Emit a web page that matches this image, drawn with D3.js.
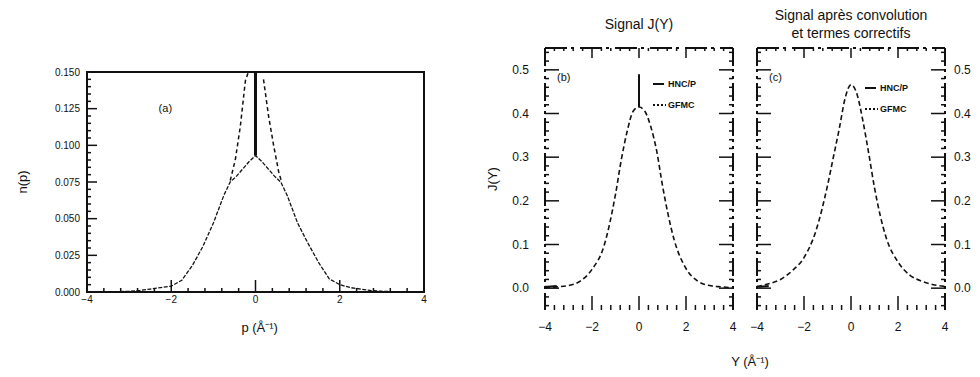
<!DOCTYPE html>
<html>
<head>
<meta charset="utf-8">
<script src="https://cdn.jsdelivr.net/npm/d3@7"></script>
<style>
body { margin: 0; background: #fff; }
text { font-family: "Liberation Sans", Arial, sans-serif; fill: #111; }
</style>
</head>
<body>
<svg id="chart" width="980" height="377"></svg>
<script>
// ---- panel (a) : n(p) ----
var pGrid  = [-4, -3.5, -3, -2.75, -2.5, -2.25, -2, -1.75, -1.5, -1.25, -1, -0.75, -0.6, -0.45, -0.3, -0.15, 0,
              0.15, 0.3, 0.45, 0.6, 0.75, 1, 1.25, 1.5, 1.75, 2, 2.25, 2.5, 2.75, 3, 3.5, 4];
var nSolid = [0, 0, 0.0005, 0.001, 0.002, 0.003, 0.004, 0.008, 0.018, 0.031, 0.047, 0.066, 0.075, 0.079, 0.084, 0.089, 0.093,
              0.089, 0.084, 0.079, 0.075, 0.066, 0.047, 0.033, 0.020, 0.009, 0.005, 0.003, 0.002, 0.001, 0.0005, 0, 0];
var pCenter = [-0.6, -0.48, -0.36, -0.24, -0.17, 0.17, 0.19, 0.31, 0.43, 0.55, 0.62];
var nDotted = [0.076, 0.090, 0.113, 0.144, 0.150, null, 0.145, 0.120, 0.100, 0.082, 0.075];
var condensate = [0.093, 0.150];   // vertical spike at p = 0
var nTicks = [0, 0.025, 0.05, 0.075, 0.1, 0.125, 0.15];
var pTicks = [-4, -2, 0, 2, 4];

// ---- panels (b) and (c) : J(Y) ----
var yGrid  = [-4, -3.5, -3, -2.5, -2, -1.5, -1, -0.75, -0.5, -0.25, 0, 0.25, 0.5, 0.75, 1, 1.5, 2, 2.5, 3, 3.5, 4];
var jRaw   = [0.001, 0.003, 0.006, 0.016, 0.043, 0.095, 0.215, 0.295, 0.36, 0.405, 0.415, 0.405, 0.37, 0.315, 0.235, 0.11, 0.045, 0.016, 0.006, 0.003, 0.001];
var jConv  = [0.004, 0.01, 0.02, 0.04, 0.07, 0.13, 0.235, 0.30, 0.365, 0.435, 0.466, 0.445, 0.385, 0.31, 0.23, 0.115, 0.06, 0.03, 0.016, 0.008, 0.004];
var spikeJ = [0.415, 0.49];          // condensate line at Y = 0, panel (b)
var tailY  = [-4, -3.75, -3.5];
var tailJ  = [0.003, 0.004, 0.005];
var jTicks = [0, 0.1, 0.2, 0.3, 0.4, 0.5];
var yTicks = [-4, -2, 0, 2, 4];
var legendNames = ["HNC/P", "GFMC"];

var svg = d3.select("#chart");
var ink = "#111";

function isMajor(v, step) { return Math.abs(Math.round(v / step) * step - v) < 1e-6; }

// ================= panel (a) =================
var xa = d3.scaleLinear().domain([-4, 4]).range([87, 424]);
var ya = d3.scaleLinear().domain([0, 0.150]).range([292, 72]);
var ga = svg.append("g");

ga.append("rect")
    .attr("x", xa(-4)).attr("y", ya(0.150))
    .attr("width", xa(4) - xa(-4)).attr("height", ya(0) - ya(0.150))
    .attr("fill", "none").attr("stroke", ink).attr("stroke-width", 2);

// left ticks (inward)
ga.selectAll(".ytk").data(d3.range(0, 0.1501, 0.005)).enter().append("line")
    .attr("x1", xa(-4))
    .attr("x2", function (d) { return xa(-4) + (isMajor(d, 0.025) ? 10 : 4); })
    .attr("y1", function (d) { return ya(d); }).attr("y2", function (d) { return ya(d); })
    .attr("stroke", ink).attr("stroke-width", 1.5);

ga.selectAll(".ylab").data(nTicks).enter().append("text")
    .attr("x", xa(-4) - 7).attr("y", function (d) { return ya(d); })
    .attr("dy", "0.35em").attr("text-anchor", "end").attr("font-size", 10)
    .text(d3.format(".3f"));

// bottom ticks (inward)
ga.selectAll(".xtk").data(d3.range(-4, 4.001, 0.4)).enter().append("line")
    .attr("x1", function (d) { return xa(d); }).attr("x2", function (d) { return xa(d); })
    .attr("y1", ya(0))
    .attr("y2", function (d) { return ya(0) - (isMajor(d, 2) ? 12 : 4); })
    .attr("stroke", ink).attr("stroke-width", 1.5);

ga.selectAll(".xlab").data(pTicks).enter().append("text")
    .attr("x", function (d) { return xa(d); }).attr("y", ya(0) + 11)
    .attr("text-anchor", "middle").attr("font-size", 10)
    .text(function (d) { return d < 0 ? "\u2212" + (-d) : d; });

var lineA = d3.line()
    .defined(function (d) { return d[1] !== null; })
    .x(function (d) { return xa(d[0]); })
    .y(function (d) { return ya(d[1]); });

ga.append("path")
    .datum(d3.zip(pGrid, nSolid))
    .attr("d", lineA).attr("fill", "none")
    .attr("stroke", ink).attr("stroke-width", 1.3).attr("stroke-dasharray", "4,1.5");

ga.append("path")
    .datum(d3.zip(pCenter, nDotted))
    .attr("d", lineA).attr("fill", "none")
    .attr("stroke", ink).attr("stroke-width", 1.5).attr("stroke-dasharray", "4,3");

ga.append("line")
    .attr("x1", xa(0)).attr("x2", xa(0))
    .attr("y1", ya(condensate[0])).attr("y2", ya(condensate[1]))
    .attr("stroke", ink).attr("stroke-width", 3);

ga.append("text").attr("x", xa(-2.3)).attr("y", ya(0.123))
    .attr("font-size", 11).text("(a)");

ga.append("text")
    .attr("transform", "translate(27," + ya(0.075) + ") rotate(-90)")
    .attr("text-anchor", "middle").attr("font-size", 13).text("n(p)");

ga.append("text").attr("x", xa(0.1)).attr("y", 332)
    .attr("text-anchor", "middle").attr("font-size", 13)
    .text("p  (\u00C5\u207B\u00B9)");

// ================= panels (b) and (c) =================
var yj = d3.scaleLinear().domain([-0.05, 0.55]).range([310, 48]);

function panel(left, right, curve, tag, legendX, legendY, side) {
    var x = d3.scaleLinear().domain([-4, 4]).range([left, right]);
    var g = svg.append("g");

    // top edge with downward ticks
    g.append("line").attr("x1", left).attr("x2", right).attr("y1", yj(0.55)).attr("y2", yj(0.55))
        .attr("stroke", ink).attr("stroke-width", 2).attr("stroke-dasharray", "22,4,3,6");
    g.selectAll(".ttk").data(d3.range(-4, 4.001, 0.4)).enter().append("line")
        .attr("x1", function (d) { return x(d); }).attr("x2", function (d) { return x(d); })
        .attr("y1", yj(0.55))
        .attr("y2", function (d) { return yj(0.55) + (isMajor(d, 2) ? 10 : 3); })
        .attr("stroke", ink).attr("stroke-width", 1.5);

    // side edges (broken, as scanned)
    [left, right].forEach(function (sx, i) {
        var dir = i === 0 ? 1 : -1;
        g.append("line").attr("x1", sx).attr("x2", sx).attr("y1", yj(0.55)).attr("y2", yj(-0.05))
            .attr("stroke", ink).attr("stroke-width", 2).attr("stroke-dasharray", "18,3,3,4,3,4");
        g.selectAll(".stk" + i).data(d3.range(-0.04, 0.5501, 0.02)).enter().append("line")
            .attr("x1", sx)
            .attr("x2", function (d) { return sx + dir * (isMajor(d, 0.1) ? 14 : 4); })
            .attr("y1", function (d) { return yj(d); }).attr("y2", function (d) { return yj(d); })
            .attr("stroke", ink).attr("stroke-width", 1.5);
    });

    // bottom ticks, no base line
    g.selectAll(".btk").data(d3.range(-3.6, 3.601, 0.4)).enter().append("line")
        .attr("x1", function (d) { return x(d); }).attr("x2", function (d) { return x(d); })
        .attr("y1", yj(-0.05))
        .attr("y2", function (d) { return yj(-0.05) - (isMajor(d, 2) ? 14 : 5); })
        .attr("stroke", ink).attr("stroke-width", 1.5);

    g.selectAll(".blab").data(yTicks).enter().append("text")
        .attr("x", function (d) { return x(d); }).attr("y", 331)
        .attr("text-anchor", "middle").attr("font-size", 12)
        .text(function (d) { return d < 0 ? "\u2212" + (-d) : d; });

    var jx = side === "left" ? left - 16 : right + 9;
    g.selectAll(".jlab").data(jTicks).enter().append("text")
        .attr("x", jx).attr("y", function (d) { return yj(d); })
        .attr("dy", "0.35em").attr("text-anchor", side === "left" ? "end" : "start")
        .attr("font-size", 12).text(d3.format(".1f"));

    var line = d3.line()
        .curve(d3.curveMonotoneX)
        .x(function (d) { return x(d[0]); })
        .y(function (d) { return yj(d[1]); });

    g.append("path").datum(d3.zip(yGrid, curve)).attr("d", line)
        .attr("fill", "none").attr("stroke", ink).attr("stroke-width", 1.6)
        .attr("stroke-dasharray", "5,3");
    g.append("path").datum(d3.zip(tailY, tailJ)).attr("d", line)
        .attr("fill", "none").attr("stroke", ink).attr("stroke-width", 2);

    g.append("text").attr("x", left + 12).attr("y", yj(0.475)).attr("font-size", 11).text(tag);

    // legend
    g.append("line").attr("x1", legendX).attr("x2", legendX + 11)
        .attr("y1", legendY).attr("y2", legendY).attr("stroke", ink).attr("stroke-width", 2);
    g.append("line").attr("x1", legendX).attr("x2", legendX + 13)
        .attr("y1", legendY + 21).attr("y2", legendY + 21)
        .attr("stroke", ink).attr("stroke-width", 2).attr("stroke-dasharray", "2,2");
    g.selectAll(".leg").data(legendNames).enter().append("text")
        .attr("x", legendX + 15).attr("y", function (d, i) { return legendY + i * 21; })
        .attr("dy", "0.35em").attr("font-size", 9).attr("font-weight", "bold").text(function (d) { return d; });

    return x;
}

var xb = panel(545, 733, jRaw, "(b)", 653, 84, "left");
svg.append("line").attr("x1", xb(0)).attr("x2", xb(0))
    .attr("y1", yj(spikeJ[0])).attr("y2", yj(spikeJ[1]))
    .attr("stroke", ink).attr("stroke-width", 2);

var xc = panel(757, 945, jConv, "(c)", 865, 88, "right");

svg.append("text").attr("x", xb(0)).attr("y", 29)
    .attr("text-anchor", "middle").attr("font-size", 14).text("Signal J(Y)");
svg.append("text").attr("x", xc(0)).attr("y", 20)
    .attr("text-anchor", "middle").attr("font-size", 14).text("Signal apr\u00E8s convolution");
svg.append("text").attr("x", xc(0)).attr("y", 38)
    .attr("text-anchor", "middle").attr("font-size", 14).text("et termes correctifs");

svg.append("text")
    .attr("transform", "translate(497," + yj(0.25) + ") rotate(-90)")
    .attr("text-anchor", "middle").attr("font-size", 13).text("J(Y)");
svg.append("text").attr("x", 750).attr("y", 366)
    .attr("text-anchor", "middle").attr("font-size", 13)
    .text("Y  (\u00C5\u207B\u00B9)");
</script>
</body>
</html>
